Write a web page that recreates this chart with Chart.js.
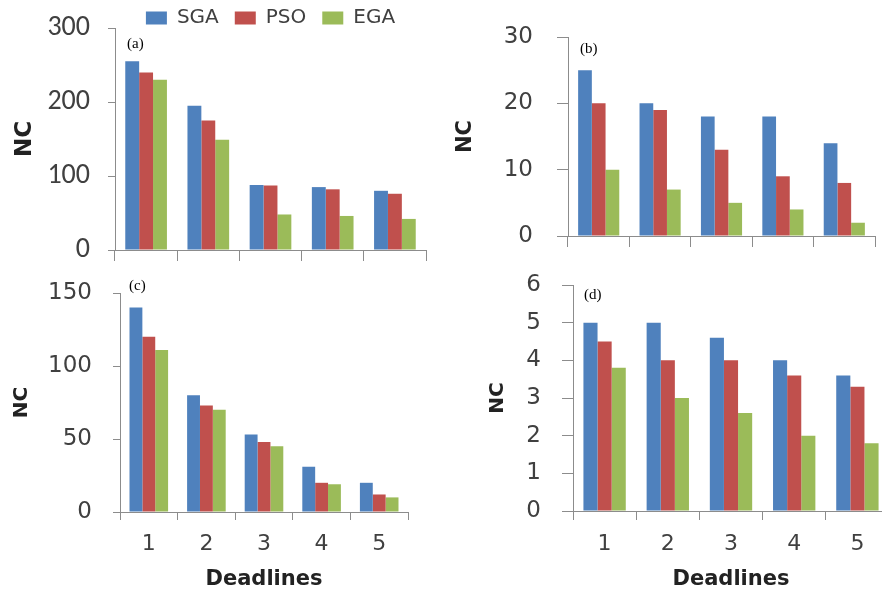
<!DOCTYPE html>
<html>
<head>
<meta charset="utf-8">
<script src="https://cdn.jsdelivr.net/npm/chart.js@4.4.0/dist/chart.umd.min.js"></script>
<style>
  html, body { margin: 0; padding: 0; background: #fff; }
  body { width: 882px; height: 592px; overflow: hidden; position: relative; }
  .panel { position: absolute; }
</style>
</head>
<body>
<div class="panel" style="left:0;top:-8px;width:441px;height:278px"><canvas id="chartA"></canvas></div>
<div class="panel" style="left:441px;top:0;width:441px;height:270px"><canvas id="chartB"></canvas></div>
<div class="panel" style="left:0;top:270px;width:441px;height:322px"><canvas id="chartC"></canvas></div>
<div class="panel" style="left:441px;top:270px;width:450px;height:322px"><canvas id="chartD"></canvas></div>
<script>
const deadlines = ["1", "2", "3", "4", "5"];
const seriesNames = ["SGA", "PSO", "EGA"];
const seriesColors = ["#4F81BD", "#C0504D", "#9BBB59"];
const panelLabels = ["(a)", "(b)", "(c)", "(d)"];

// panel (a)
const sgaA = [255, 195, 88, 85, 80];
const psoA = [240, 175, 87, 82, 76];
const egaA = [230, 149, 48, 46, 42];
const yTicksA = [0, 100, 200, 300];

// panel (b)
const sgaB = [25, 20, 18, 18, 14];
const psoB = [20, 19, 13, 9, 8];
const egaB = [10, 7, 5, 4, 2];
const yTicksB = [0, 10, 20, 30];

// panel (c)
const sgaC = [140, 80, 53, 31, 20];
const psoC = [120, 73, 48, 20, 12];
const egaC = [111, 70, 45, 19, 10];
const yTicksC = [0, 50, 100, 150];

// panel (d)
const sgaD = [5, 5, 4.6, 4, 3.6];
const psoD = [4.5, 4, 4, 3.6, 3.3];
const egaD = [3.8, 3, 2.6, 2, 1.8];
const yTicksD = [0, 1, 2, 3, 4, 5, 6];

const axisColor = "#8c8c8c";

// little "(a)" style tag in the top-left of each plot
const panelTag = {
  id: "panelTag",
  afterDraw(chart, args, opts) {
    const { ctx, chartArea } = chart;
    ctx.save();
    ctx.font = '15px "Liberation Serif", "Times New Roman", serif';
    ctx.fillStyle = "#000";
    ctx.textBaseline = "middle";
    ctx.fillText(opts.text, chartArea.left + opts.dx, chartArea.top + opts.dy);
    ctx.restore();
  }
};

// lets the legend overlap the space above the plot, like the original
const shortLegend = {
  id: "shortLegend",
  beforeLayout(chart, args, opts) {
    const lg = chart.legend;
    if (!lg || lg._short || !opts.height) return;
    const fit = lg.fit;
    lg.fit = function () {
      fit.call(this);
      this.height = opts.height;
    };
    lg._short = true;
  }
};

function makePanel(canvasId, values, yTicks, cfg) {
  const ctx = document.getElementById(canvasId).getContext("2d");
  return new Chart(ctx, {
    type: "bar",
    data: {
      labels: deadlines,
      datasets: seriesNames.map((name, i) => ({
        label: name,
        data: values[i],
        backgroundColor: seriesColors[i],
        borderWidth: 0,
        categoryPercentage: 0.67,
        barPercentage: 1.0
      }))
    },
    options: {
      responsive: true,
      maintainAspectRatio: false,
      animation: false,
      devicePixelRatio: 1,
      layout: { padding: { left: 0, top: cfg.padTop, right: cfg.padRight, bottom: 0 } },
      plugins: {
        legend: cfg.legend
          ? {
              display: true,
              position: "top",
              fullSize: false,
              labels: {
                boxWidth: 21,
                boxHeight: 13,
                padding: 16,
                color: "#404040",
                font: { family: '"DejaVu Sans", sans-serif', size: 20 }
              }
            }
          : { display: false },
        shortLegend: { height: cfg.legend ? 36 : 0 },
        tooltip: { enabled: false },
        panelTag: cfg.tag
      },
      scales: {
        x: {
          grid: {
            offset: true,
            drawOnChartArea: false,
            tickLength: cfg.xTickLen,
            color: axisColor
          },
          border: { color: axisColor, width: 1 },
          ticks: {
            display: cfg.showX,
            color: "#404040",
            padding: 13,
            font: { family: '"DejaVu Sans", sans-serif', size: 22, lineHeight: 1 }
          },
          title: {
            display: cfg.showX,
            text: "Deadlines",
            color: "#222",
            padding: { top: 0, bottom: 1.5 },
            font: { family: '"DejaVu Sans", sans-serif', size: 21, weight: "bold", lineHeight: 1 }
          },
          afterFit(scale) { scale.height = cfg.xHeight; }
        },
        y: {
          min: yTicks[0],
          max: yTicks[yTicks.length - 1],
          ticks: {
            stepSize: yTicks[1] - yTicks[0],
            color: "#404040",
            padding: cfg.yTickPad,
            font: cfg.yFont
          },
          grid: {
            drawOnChartArea: false,
            tickLength: cfg.yTickLen,
            color: axisColor
          },
          border: { color: axisColor, width: 1 },
          title: {
            display: true,
            text: "NC",
            color: "#222",
            padding: { top: cfg.ncPad, bottom: 0 },
            font: { family: '"DejaVu Sans", sans-serif', size: cfg.ncSize, weight: "bold", lineHeight: 1 }
          },
          afterFit(scale) {
            scale.width = cfg.yWidth;
            // the label padding is horizontal only; keep it out of the vertical room
            scale.paddingTop = 12;
            scale.paddingBottom = 12;
          }
        }
      }
    },
    plugins: [panelTag, shortLegend]
  });
}

const wideFont = { family: '"DejaVu Sans", sans-serif', size: 23 };

makePanel("chartA", [sgaA, psoA, egaA], yTicksA, {
  legend: true, padTop: 0, padRight: 15, yWidth: 115, xHeight: 20,
  yFont: { family: 'Carlito, Calibri, "DejaVu Sans Condensed", sans-serif', size: 28 },
  yTickLen: 7, yTickPad: 18, xTickLen: 11, showX: false,
  ncSize: 23, ncPad: 13.5,
  tag: { text: panelLabels[0], dx: 12, dy: 16 }
});

makePanel("chartB", [sgaB, psoB, egaB], yTicksB, {
  legend: false, padTop: 37, padRight: 7, yWidth: 127, xHeight: 34,
  yFont: wideFont, yTickLen: 11, yTickPad: 24, xTickLen: 11, showX: false,
  ncSize: 21, ncPad: 14.5,
  tag: { text: panelLabels[1], dx: 12, dy: 12 }
});

makePanel("chartC", [sgaC, psoC, egaC], yTicksC, {
  legend: false, padTop: 23, padRight: 33, yWidth: 120, xHeight: 80,
  yFont: wideFont, yTickLen: 7, yTickPad: 21, xTickLen: 8, showX: true,
  ncSize: 20, ncPad: 12,
  tag: { text: panelLabels[2], dx: 9, dy: -6.5 }
});

makePanel("chartD", [sgaD, psoD, egaD], yTicksD, {
  legend: false, padTop: 15, padRight: 2, yWidth: 132, xHeight: 81,
  yFont: wideFont, yTickLen: 11, yTickPad: 21, xTickLen: 9, showX: true,
  ncSize: 20, ncPad: 47,
  tag: { text: panelLabels[3], dx: 11, dy: 10 }
});
</script>
</body>
</html>
